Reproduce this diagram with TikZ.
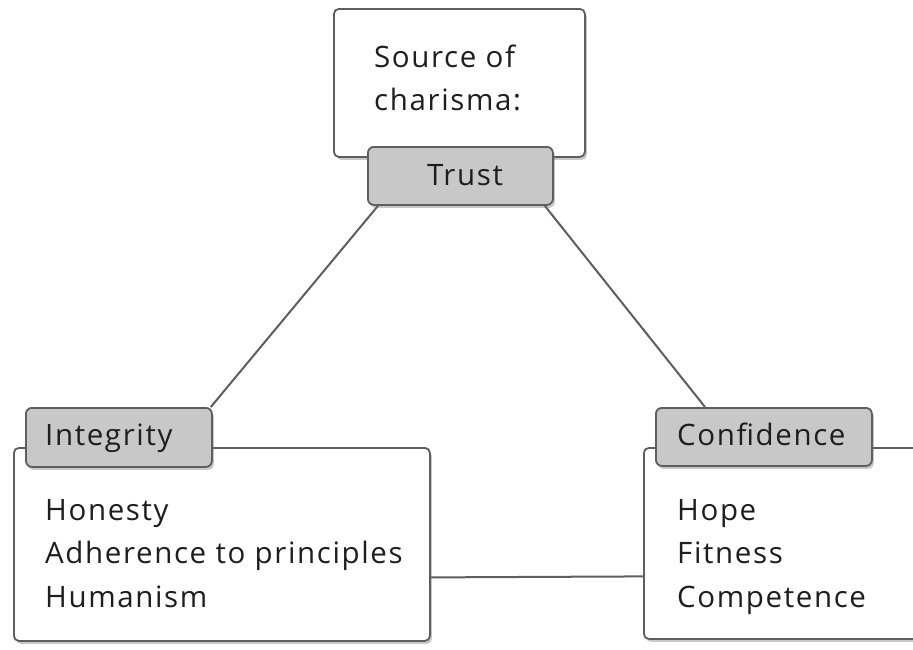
\documentclass[tikz,border=0pt]{standalone}
\usepackage{fontspec}
\setmainfont[LetterSpace=5.5]{Open Sans}
\usetikzlibrary{shadows,calc,backgrounds}
\definecolor{edge}{HTML}{5E5E5E}
\definecolor{labfill}{HTML}{C8C8C8}
\definecolor{ink}{HTML}{1E1E1E}
\tikzset{
  box/.style={draw=edge, line width=1.8pt, fill=white, rounded corners=5pt, anchor=north west,
    drop shadow={shadow xshift=2pt, shadow yshift=-3pt, opacity=0.35, fill=black!60}},
  lab/.style={draw=edge, line width=1.8pt, fill=labfill, rounded corners=6pt, anchor=north west,
    drop shadow={shadow xshift=2pt, shadow yshift=-3pt, opacity=0.35, fill=black!60}},
  txt/.style={anchor=base west, inner sep=0pt, text=ink, font=\fontsize{29.5}{34}\selectfont},
  conn/.style={draw=edge, line width=2pt}
}
\begin{document}
\begin{tikzpicture}[x=1pt,y=-1pt]
\clip (0,0) rectangle (913,649);
% top
\node[box, minimum width=251pt, minimum height=148pt] (top) at (333,8) {};
\node[txt] (src1) at (374,67) {Source of};
\node[txt] (src2) at (374,110) {charisma:};
\node[lab, minimum width=185pt, minimum height=58pt] (trust) at (367,146) {};
\node[txt, anchor=base] (trusttxt) at (465,185) {Trust};
% left
\node[box, minimum width=416pt, minimum height=193pt] (left) at (13,447) {};
\node[lab, minimum width=186pt, minimum height=59pt] (integ) at (25,407) {};
\node[txt] (integtxt) at (45,445) {Integrity};
\node[txt] (l1) at (45,520) {Honesty};
\node[txt] (l2) at (45,563) {Adherence to principles};
\node[txt] (l3) at (45,607) {Humanism};
% right
\node[box, minimum width=300pt, minimum height=191pt] (right) at (643,447) {};
\node[lab, minimum width=216pt, minimum height=58pt] (conf) at (655,407) {};
\node[txt] (conftxt) at (677,445) {Confidence};
\node[txt] (r1) at (677,520) {Hope};
\node[txt] (r2) at (677,563) {Fitness};
\node[txt] (r3) at (677,607) {Competence};
% connectors
\begin{scope}[on background layer]
\fill[white] (0,0) rectangle (913,649);
\draw[conn] ($(trust.south west)+(11,0)$) -- ($(integ.north east)+(-2,0)$);
\draw[conn] ($(trust.south east)+(-9,0)$) -- ($(conf.north west)+(50,0)$);
\draw[conn] ($(left.east)+(0,33)$) -- ($(right.west)+(0,33)$);
\end{scope}
\end{tikzpicture}
\end{document}
